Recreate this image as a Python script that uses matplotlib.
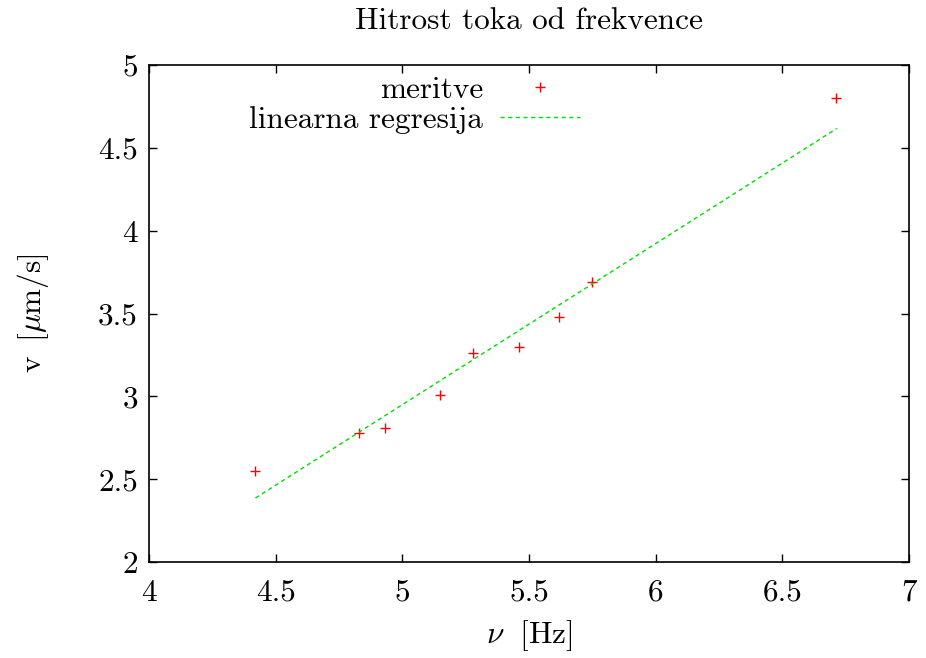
import matplotlib
matplotlib.use("Agg")
import matplotlib.pyplot as plt

# measured flow speed vs. frequency
nu = [4.42, 4.83, 4.93, 5.15, 5.28, 5.46, 5.62, 5.75, 6.71]
v = [2.55, 2.78, 2.81, 3.01, 3.26, 3.30, 3.48, 3.69, 4.80]

# regression line endpoints
fit_nu = [4.42, 6.715]
fit_v = [2.386, 4.617]

xticks = [4, 4.5, 5, 5.5, 6, 6.5, 7]
yticks = [2, 2.5, 3, 3.5, 4, 4.5, 5]

plt.rcParams["font.family"] = ["cmr10", "DejaVu Serif"]
plt.rcParams["mathtext.fontset"] = "cm"
plt.rcParams["axes.formatter.use_mathtext"] = True
plt.rcParams["font.size"] = 22.5

fig = plt.figure(figsize=(9.26, 6.58), dpi=100)
ax = fig.add_axes([149 / 926, 1 - 562 / 658, 760 / 926, 497 / 658])

ax.plot(nu, v, linestyle="none", marker="+", color="#ff0000",
        markersize=7, markeredgewidth=1, label="meritve")
ax.plot(fit_nu, fit_v, color="#00dd00", linewidth=1,
        linestyle=(0, (3, 2.5)), label="linearna regresija")

ax.set_xlim(4, 7)
ax.set_ylim(2, 5)
ax.set_xticks(xticks)
ax.set_yticks(yticks)
ax.set_xticklabels([f"{t:g}" for t in xticks])
ax.set_yticklabels([f"{t:g}" for t in yticks])

ax.tick_params(direction="in", length=6, width=1, top=True, right=True)
ax.tick_params(axis="x", pad=12)
ax.tick_params(axis="y", pad=8)
for s in ax.spines.values():
    s.set_linewidth(1.2)

ax.set_title("Hitrost toka od frekvence", fontsize=22.5, pad=26)
ax.set_xlabel(r"$\nu\;$ [Hz]", labelpad=8)
ax.set_ylabel(r"v $\,$[$\mu$m/s]", labelpad=34)

ax.legend(loc="upper right", bbox_to_anchor=((580 - 149) / 760, 0.977),
          frameon=False, markerfirst=False, borderpad=0, borderaxespad=0,
          handlelength=2.56, handletextpad=0.54, labelspacing=0.06)

plt.savefig("out.png", dpi=100)
plt.close(fig)
